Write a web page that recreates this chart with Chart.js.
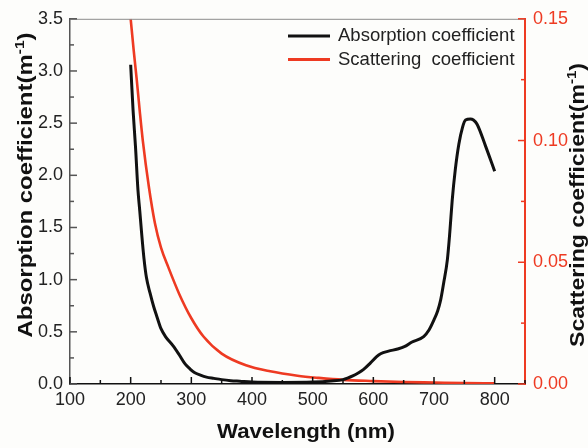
<!DOCTYPE html>
<html>
<head>
<meta charset="utf-8">
<title>Absorption and scattering coefficient</title>
<script src="https://cdn.jsdelivr.net/npm/chart.js@4.4.1/dist/chart.umd.min.js"></script>
<style>
  html, body { margin: 0; padding: 0; background: #fdfdfb; }
  #wrap { width: 588px; height: 448px; }
</style>
</head>
<body>
<div id="wrap"><canvas id="specChart" width="588" height="448"></canvas></div>
<script>
// ---- values ----
const absWavelength = [200, 204, 208, 212, 215, 218, 222, 226, 232, 238, 243, 250, 258, 270, 280,
    290, 298, 305, 315, 325, 337, 350, 365, 380, 400, 450, 500, 530, 550, 567, 575, 584, 595,
    605, 612, 625, 640, 652, 663, 683, 692, 700, 706, 711, 716, 722, 726, 730, 735, 741, 747,
    752, 760, 765, 771, 785, 800];
const absValues = [3.06, 2.62, 2.27, 1.86, 1.66, 1.45, 1.20, 1.02, 0.87, 0.74, 0.65, 0.53, 0.45, 0.365, 0.28,
    0.19, 0.143, 0.11, 0.085, 0.066, 0.054, 0.042, 0.032, 0.026, 0.018, 0.015, 0.018, 0.028, 0.042, 0.08, 0.105, 0.14, 0.2,
    0.26, 0.29, 0.315, 0.335, 0.36, 0.40, 0.455, 0.52, 0.615, 0.70, 0.806, 0.97, 1.19, 1.45, 1.76, 2.05, 2.30, 2.46,
    2.53, 2.54, 2.53, 2.49, 2.28, 2.04];

const scatWavelength = [200, 205, 210, 215, 220, 230, 240, 250, 262, 280, 300, 320, 350, 390, 430,
    475, 510, 550, 600, 650, 700, 750, 800];
const scatValues = [0.150, 0.137, 0.125, 0.112, 0.100, 0.081, 0.066, 0.056, 0.048, 0.037, 0.027, 0.0195, 0.0125, 0.0077, 0.0052,
    0.0034, 0.0025, 0.0017, 0.0012, 0.0008, 0.0006, 0.0004, 0.0003];

const xTicks = [100, 200, 300, 400, 500, 600, 700, 800];
const absTicks = [0, 0.5, 1.0, 1.5, 2.0, 2.5, 3.0, 3.5];
const scatTicks = [0, 0.05, 0.10, 0.15];

const BLACK = '#111111';
const RED = '#ee3a22';
const FONT = '"Liberation Sans", Arial, sans-serif';

// ---- inward tick marks + top frame line ----
const frameTicks = {
    id: 'frameTicks',
    afterDatasetsDraw(chart) {
        const { ctx, chartArea: a, scales } = chart;
        ctx.save();
        ctx.strokeStyle = '#8c8c8c';
        ctx.lineWidth = 1;
        ctx.beginPath();
        ctx.moveTo(a.left, a.top + 0.5);
        ctx.lineTo(a.right, a.top + 0.5);
        ctx.stroke();

        const mark = (scale, ticks, color, side) => {
            ctx.strokeStyle = color;
            ctx.lineWidth = 1.5;
            const step = ticks[1] - ticks[0];
            const all = [];
            ticks.forEach(t => { all.push([t, 7]); all.push([t + step / 2, 4]); });
            all.forEach(([v, len]) => {
                if (v < scale.min || v > scale.max) return;
                const p = scale.getPixelForValue(v);
                ctx.beginPath();
                if (side === 'bottom') { ctx.moveTo(p, a.bottom); ctx.lineTo(p, a.bottom - len); }
                if (side === 'left') { ctx.moveTo(a.left, p); ctx.lineTo(a.left + len, p); }
                if (side === 'right') { ctx.moveTo(a.right, p); ctx.lineTo(a.right - len, p); }
                ctx.stroke();
            });
        };
        mark(scales.x, xTicks, BLACK, 'bottom');
        mark(scales.y, absTicks, '#555', 'left');
        mark(scales.y1, scatTicks, RED, 'right');
        ctx.restore();
    },
};

// ---- axis titles (with superscript) and legend inside plot ----
function drawTitle(ctx, parts, cx, cy, rotate, target) {
    ctx.save();
    ctx.translate(cx, cy);
    if (rotate) ctx.rotate(-Math.PI / 2);
    const big = 'bold 20px ' + FONT, small = 'bold 13px ' + FONT;
    let w = 0;
    parts.forEach(p => { ctx.font = p.sup ? small : big; w += ctx.measureText(p.t).width; });
    ctx.scale(target / w, 1);
    let x = -w / 2;
    ctx.fillStyle = '#111';
    ctx.textBaseline = 'alphabetic';
    parts.forEach(p => {
        ctx.font = p.sup ? small : big;
        ctx.fillText(p.t, x, p.sup ? -8 : 0);
        x += ctx.measureText(p.t).width;
    });
    ctx.restore();
}

const titlesLegend = {
    id: 'titlesLegend',
    afterDraw(chart) {
        const ctx = chart.ctx;
        drawTitle(ctx, [{ t: 'Wavelength (nm)' }], 306, 438, false, 178);
        drawTitle(ctx, [{ t: 'Absorption coefficient(m' }, { t: '-1', sup: true }, { t: ')' }], 32, 185, true, 305);
        drawTitle(ctx, [{ t: 'Scattering coefficient(m' }, { t: '-1', sup: true }, { t: ')' }], 584, 205, true, 284);

        ctx.save();
        ctx.font = '18.5px ' + FONT;
        ctx.textBaseline = 'middle';
        chart.data.datasets.forEach((ds, i) => {
            const y = 36 + i * 23.5;
            ctx.strokeStyle = ds.borderColor;
            ctx.lineWidth = 3;
            ctx.beginPath();
            ctx.moveTo(288, y);
            ctx.lineTo(330, y);
            ctx.stroke();
            ctx.fillStyle = '#222';
            ctx.fillText(ds.label, 338, y);
        });
        ctx.restore();
    },
};

const setTicks = list => scale => { scale.ticks = list.map(v => ({ value: v })); };

new Chart(document.getElementById('specChart'), {
    type: 'line',
    data: {
        datasets: [
            {
                label: 'Absorption coefficient',
                data: absWavelength.map((x, i) => ({ x, y: absValues[i] })),
                yAxisID: 'y',
                borderColor: BLACK,
                borderWidth: 3,
                pointRadius: 0,
                cubicInterpolationMode: 'monotone',
            },
            {
                label: 'Scattering  coefficient',
                data: scatWavelength.map((x, i) => ({ x, y: scatValues[i] })),
                yAxisID: 'y1',
                borderColor: RED,
                borderWidth: 2.6,
                pointRadius: 0,
                cubicInterpolationMode: 'monotone',
            },
        ],
    },
    options: {
        responsive: false,
        animation: false,
        layout: { padding: { top: 18, left: 0, right: 0, bottom: 0 } },
        plugins: { legend: { display: false }, tooltip: { enabled: false } },
        scales: {
            x: {
                type: 'linear',
                min: 100,
                max: 850,
                afterBuildTicks: setTicks(xTicks),
                afterFit: s => { s.height = 64; },
                ticks: { color: '#222', font: { family: FONT, size: 18 }, padding: 5, maxRotation: 0 },
                grid: { display: false, drawTicks: false },
                border: { color: BLACK, width: 1.5 },
            },
            y: {
                position: 'left',
                min: 0,
                max: 3.5,
                afterBuildTicks: setTicks(absTicks),
                afterFit: s => { s.width = 70; },
                ticks: { color: '#222', font: { family: FONT, size: 18 }, padding: 7, callback: v => v.toFixed(1) },
                grid: { display: false, drawTicks: false },
                border: { color: '#555', width: 1.5 },
            },
            y1: {
                position: 'right',
                min: 0,
                max: 0.15,
                afterBuildTicks: setTicks(scatTicks),
                afterFit: s => { s.width = 63; },
                ticks: { color: RED, font: { family: FONT, size: 18 }, padding: 8, callback: v => v.toFixed(2) },
                grid: { display: false, drawTicks: false },
                border: { color: RED, width: 2 },
            },
        },
    },
    plugins: [frameTicks, titlesLegend],
});
</script>
</body>
</html>
